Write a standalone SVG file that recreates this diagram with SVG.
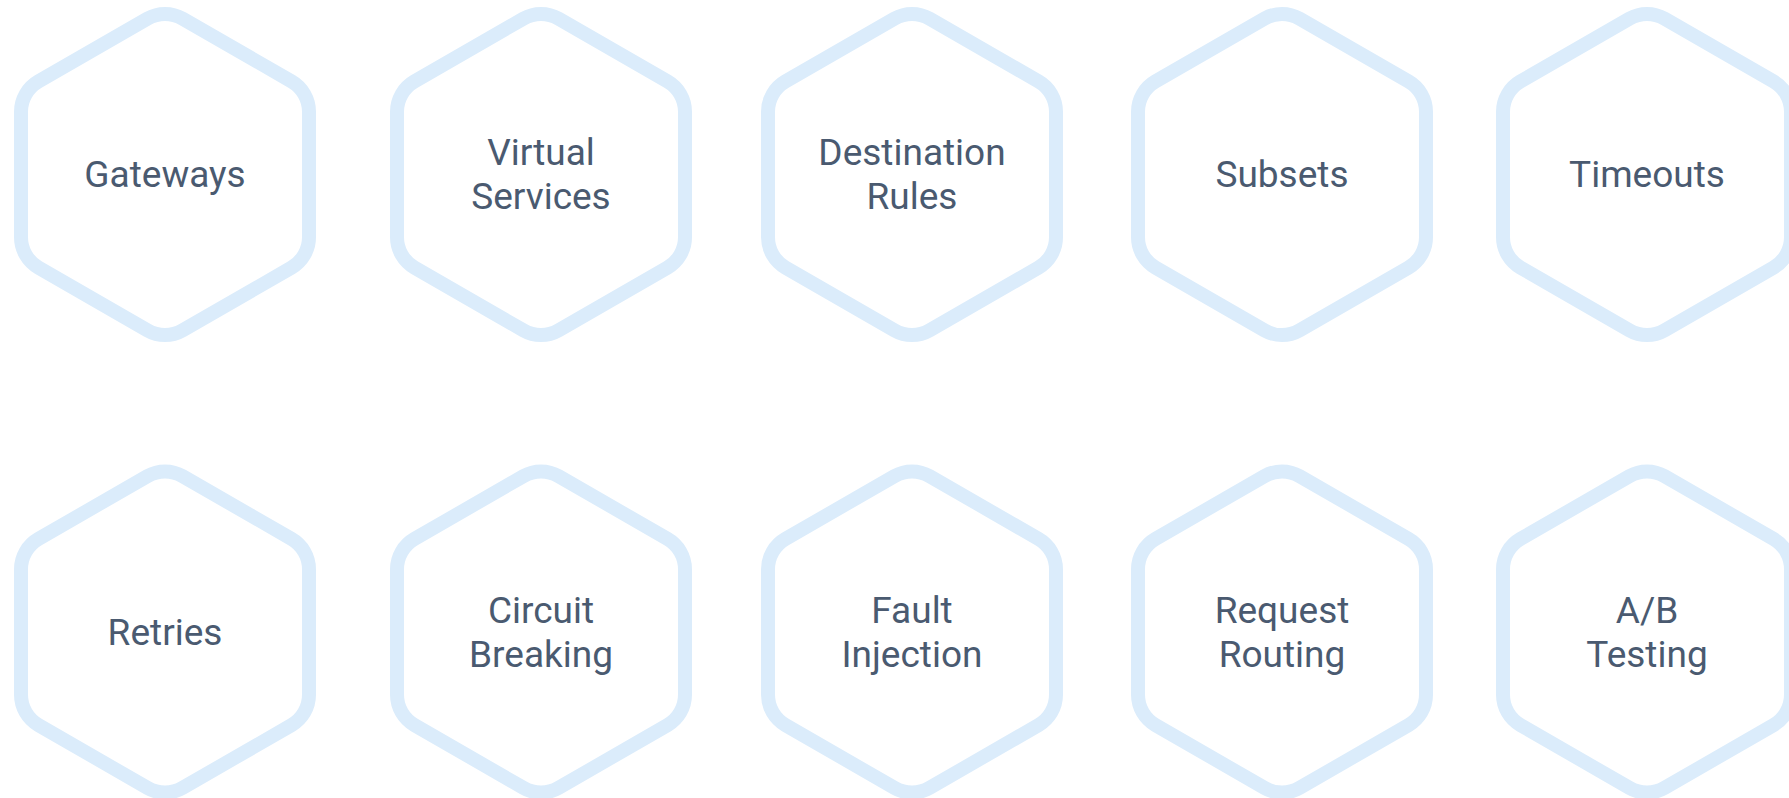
<svg xmlns="http://www.w3.org/2000/svg" xmlns:xlink="http://www.w3.org/1999/xlink" width="1789" height="798" viewBox="0 0 1789 798">
<style>
.hex{fill:#ffffff;stroke:#dbecfb;stroke-width:14;}
.lbl{font-family:Roboto,"Liberation Sans",sans-serif;font-size:37px;font-weight:400;fill:#4a5a70;text-anchor:middle;}
</style>
<defs>
<path id="hexp" d="M17.5,-155.9 L126.5,-93.1 A35,35 0 0 1 144,-62.8 L144,62.8 A35,35 0 0 1 126.5,93.1 L17.5,155.9 A35,35 0 0 1 -17.5,155.9 L-126.5,93.1 A35,35 0 0 1 -144,62.8 L-144,-62.8 A35,35 0 0 1 -126.5,-93.1 L-17.5,-155.9 A35,35 0 0 1 17.5,-155.9 Z"/>
</defs>
<rect width="1789" height="798" fill="#ffffff"/>
<g id="connectors"></g>
<g id="gateways" transform="translate(165,174.5)"><use href="#hexp" class="hex"/><text class="lbl" x="0" y="12.5">Gateways</text></g>
<g id="virtual-services" transform="translate(541,174.5)"><use href="#hexp" class="hex"/><text class="lbl" x="0" y="-9.5">Virtual</text><text class="lbl" x="0" y="34.5">Services</text></g>
<g id="destination-rules" transform="translate(912,174.5)"><use href="#hexp" class="hex"/><text class="lbl" x="0" y="-9.5">Destination</text><text class="lbl" x="0" y="34.5">Rules</text></g>
<g id="subsets" transform="translate(1282,174.5)"><use href="#hexp" class="hex"/><text class="lbl" x="0" y="12.5">Subsets</text></g>
<g id="timeouts" transform="translate(1647,174.5)"><use href="#hexp" class="hex"/><text class="lbl" x="0" y="12.5">Timeouts</text></g>
<g id="retries" transform="translate(165,632)"><use href="#hexp" class="hex"/><text class="lbl" x="0" y="12.5">Retries</text></g>
<g id="circuit-breaking" transform="translate(541,632)"><use href="#hexp" class="hex"/><text class="lbl" x="0" y="-9.5">Circuit</text><text class="lbl" x="0" y="34.5">Breaking</text></g>
<g id="fault-injection" transform="translate(912,632)"><use href="#hexp" class="hex"/><text class="lbl" x="0" y="-9.5">Fault</text><text class="lbl" x="0" y="34.5">Injection</text></g>
<g id="request-routing" transform="translate(1282,632)"><use href="#hexp" class="hex"/><text class="lbl" x="0" y="-9.5">Request</text><text class="lbl" x="0" y="34.5">Routing</text></g>
<g id="ab-testing" transform="translate(1647,632)"><use href="#hexp" class="hex"/><text class="lbl" x="0" y="-9.5">A/B</text><text class="lbl" x="0" y="34.5">Testing</text></g>
</svg>
